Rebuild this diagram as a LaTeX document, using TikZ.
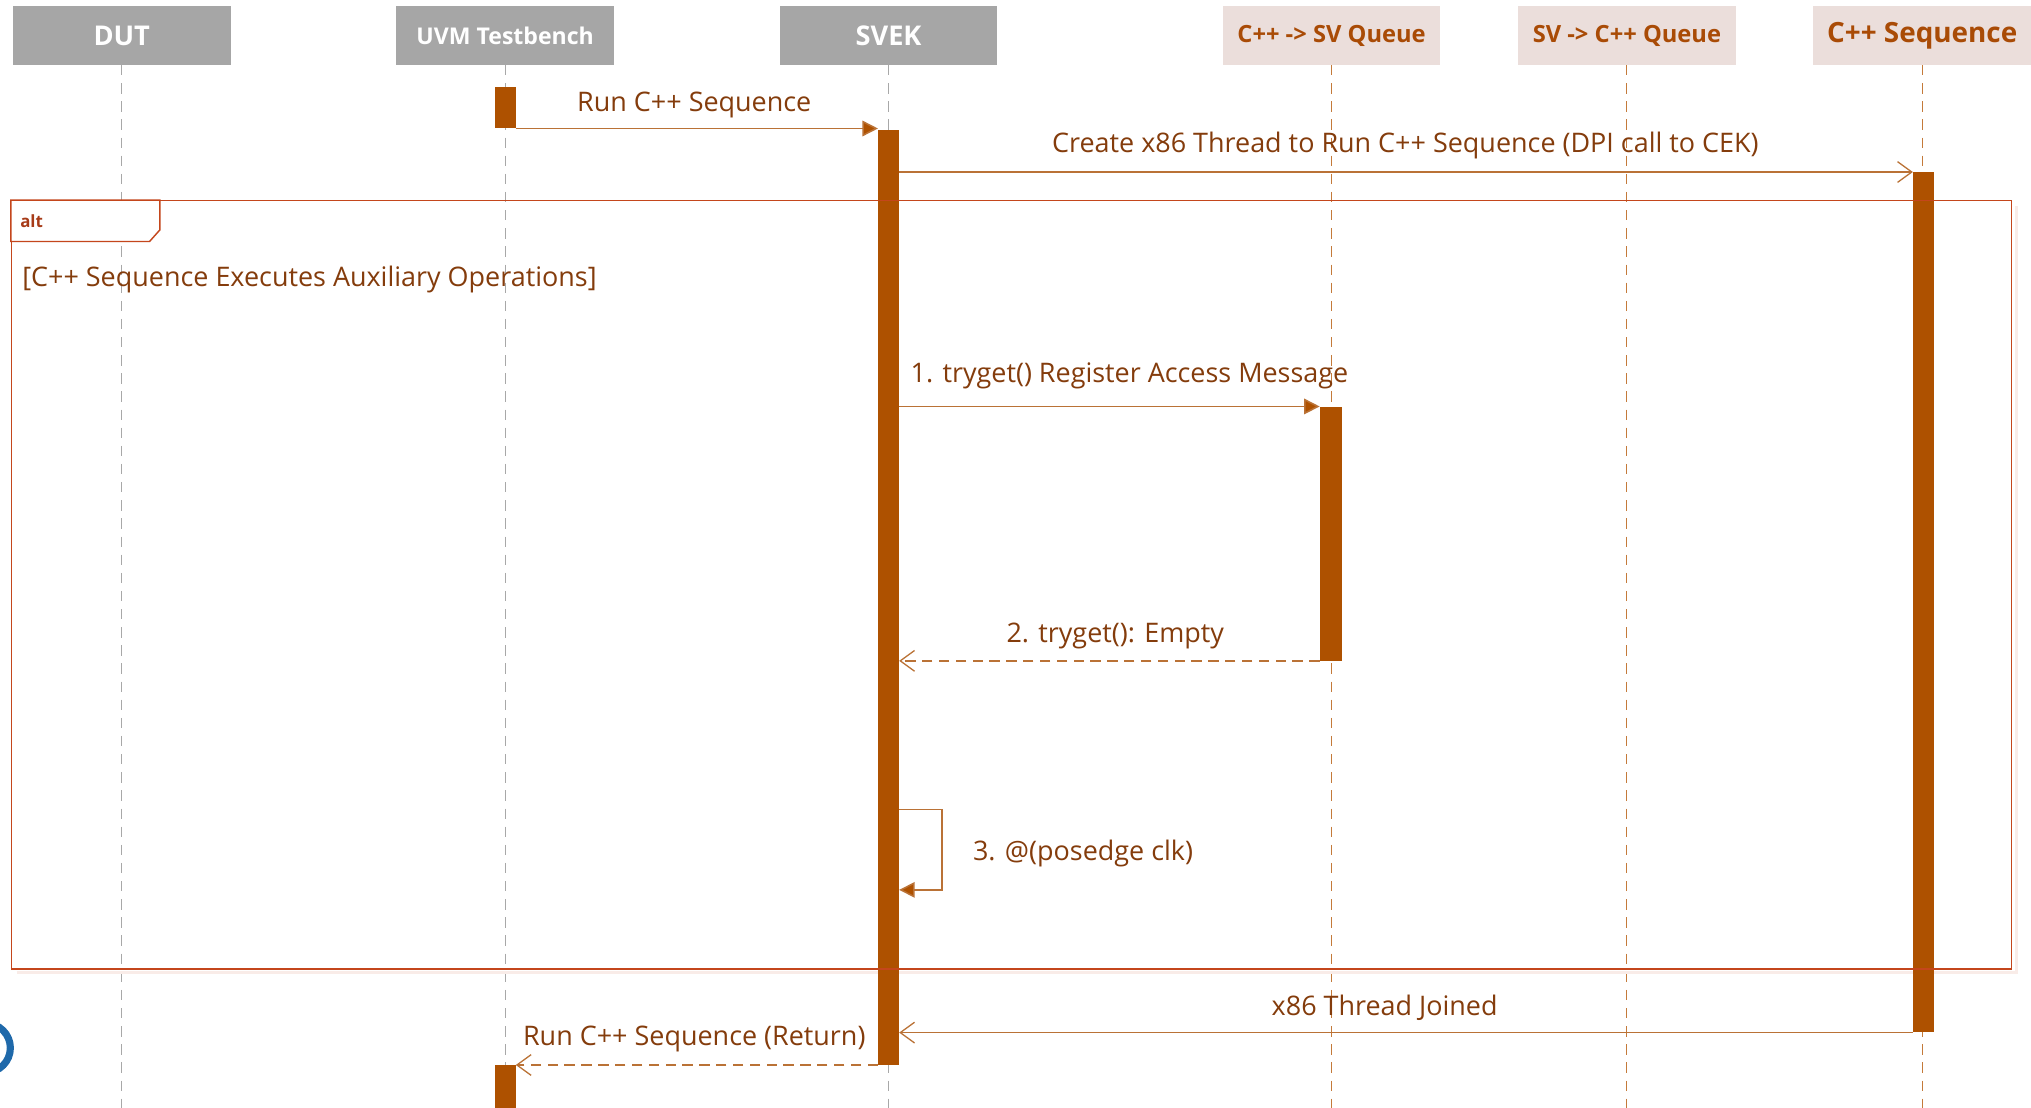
\documentclass[tikz,border=0pt]{standalone}
\usepackage{fontspec}
\setmainfont{Open Sans}
\usetikzlibrary{arrows.meta,calc}

\definecolor{hdrgray}{HTML}{A6A6A6}
\definecolor{hdrpink}{HTML}{EBDEDB}
\definecolor{hdrtext}{HTML}{A94B06}
\definecolor{barfill}{HTML}{AE5100}
\definecolor{msgline}{HTML}{BA7236}
\definecolor{msgtext}{HTML}{843C0C}
\definecolor{framecol}{HTML}{C4461C}
\definecolor{lifegray}{HTML}{A8A8A8}
\definecolor{lifeorange}{HTML}{C47A3A}
\definecolor{ringblue}{HTML}{1F69AA}

\tikzset{
  hdr/.style={rectangle, minimum width=168pt, minimum height=45pt, inner sep=0pt,
              font=\bfseries, anchor=center},
  hdrsys/.style={hdr, fill=hdrgray, text=white},
  hdrq/.style={hdr, fill=hdrpink, text=hdrtext},
  lifesys/.style={draw=lifegray, line width=0.9pt, dash pattern=on 8pt off 6pt},
  lifeq/.style={draw=lifeorange, line width=0.9pt, dash pattern=on 8pt off 6pt},
  bar/.style={rectangle, fill=barfill, minimum width=16pt, inner sep=0pt},
  msg/.style={draw=msgline, line width=1.2pt},
  sync/.style={msg, -{Triangle[length=12pt,width=12pt,fill=barfill]}},
  async/.style={msg, -{Straight Barb[length=11pt,width=16pt,line width=1pt]}},
  reply/.style={async, dash pattern=on 8pt off 5pt},
  lbl/.style={text=msgtext, font=\fontsize{20.8}{24}\selectfont, inner sep=0pt},
  frame/.style={draw=framecol, line width=1.1pt, inner sep=0pt},
}

\begin{document}
\begin{tikzpicture}[x=1pt, y=-1pt]
  \useasboundingbox (0,0) rectangle (1568,855);
  \clip (0,0) rectangle (1568,855);
  \fill[white] (0,0) rectangle (1568,855);

  % participant headers
  \node[hdrsys, font=\bfseries\fontsize{21}{24}\selectfont] (dut)  at (94,27.5)   {DUT};
  \node[hdrsys, font=\bfseries\fontsize{17.8}{20}\selectfont] (uvm)  at (390,27.5)  {UVM Testbench};
  \node[hdrsys, font=\bfseries\fontsize{21}{24}\selectfont] (svek) at (686,27.5)  {SVEK};
  \node[hdrq, font=\bfseries\fontsize{18.3}{20}\selectfont] (c2sv) at (1028,27.5) {C++ -> SV Queue};
  \node[hdrq, font=\bfseries\fontsize{18.3}{20}\selectfont] (sv2c) at (1256,27.5) {SV -> C++ Queue};
  \node[hdrq, font=\bfseries\fontsize{21.5}{24}\selectfont] (cseq) at (1484,27.5) {C++ Sequence};

  % lifelines
  \coordinate (dutEnd)  at (dut.south |- 0,860);
  \coordinate (uvmEnd)  at (uvm.south |- 0,860);
  \coordinate (svekEnd) at (svek.south |- 0,860);
  \coordinate (c2svEnd) at (c2sv.south |- 0,860);
  \coordinate (sv2cEnd) at (sv2c.south |- 0,860);
  \coordinate (cseqEnd) at (cseq.south |- 0,860);
  \draw[lifesys] (dut.south)  -- (dutEnd);
  \draw[lifesys] (uvm.south)  -- (uvmEnd);
  \draw[lifesys] (svek.south) -- (svekEnd);
  \draw[lifeq]   (c2sv.south) -- (c2svEnd);
  \draw[lifeq]   (sv2c.south) -- (sv2cEnd);
  \draw[lifeq]   (cseq.south) -- (cseqEnd);

  % soft shadow of the combined fragment, kept under the bars
  \draw[draw=framecol!10, line width=2.5pt] (13,751) -- (1557,751) -- (1557,159);

  % activation bars
  \node[bar, minimum height=32pt]  (uvmA)  at (390,83)    {};
  \node[bar, minimum height=722pt] (svekA) at (686,461)   {};
  \node[bar, minimum height=196pt, minimum width=17pt] (qA) at (1027.5,412) {};
  \node[bar, minimum height=664pt] (cseqA) at (1485,465)  {};
  \node[bar, minimum height=40pt]  (uvmB)  at (390,842)   {};

  % messages
  \draw[sync] (uvmA.south east) -- (uvmA.south east -| svekA.west);
  \node[lbl] (m1) at (536,81) {Run C++ Sequence};

  \draw[async] (svekA.east |- cseqA.north) -- (cseqA.north west);
  \node[lbl] (m2) at (1085,112) {Create x86 Thread to Run C++ Sequence (DPI call to CEK)};

  \draw[sync] (svekA.east |- qA.north) -- (qA.north west);
  \node[lbl] (m3) at (872,290) {1. tryget() Register Access Message};

  \draw[reply] (qA.south west) -- (svekA.east |- qA.south);
  \node[lbl] (m4) at (861,491) {2. tryget(): Empty};

  \coordinate (selfA) at (svekA.east |- 0,625);
  \coordinate (selfB) at (svekA.east |- 0,687);
  \draw[sync] (selfA) -- ++(33,0) |- (selfB);
  \node[lbl, anchor=west] (m5) at (751,659) {3. @(posedge clk)};

  \draw[async] (cseqA.south west) -- (svekA.east |- cseqA.south);
  \node[lbl] (m6) at (1069,778) {x86 Thread Joined};

  \draw[reply] (svekA.south west) -- (svekA.south west -| uvmB.east);
  \node[lbl] (m7) at (536,802) {Run C++ Sequence (Return)};

  % combined fragment "alt"
  \node[frame, minimum width=1544pt, minimum height=593pt] (alt) at (781,451.5) {};
  \draw[frame, fill=white] (alt.north west) -- ++(115,0) -- ++(0,23) -- ++(-8,9) -- ++(-107,0) -- cycle;
  \node[anchor=west, text=framecol!85!black, font=\bfseries\fontsize{13}{15}\selectfont, inner sep=0pt]
    (altTag) at ($(alt.north west)+(7,16)$) {alt};
  \node[lbl, anchor=west] (guard) at (17,216) {[C++ Sequence Executes Auxiliary Operations]};

  % partial logo ring at the left edge
  \draw[ringblue, line width=5.5pt] (-11,809) circle (19);
\end{tikzpicture}
\end{document}
